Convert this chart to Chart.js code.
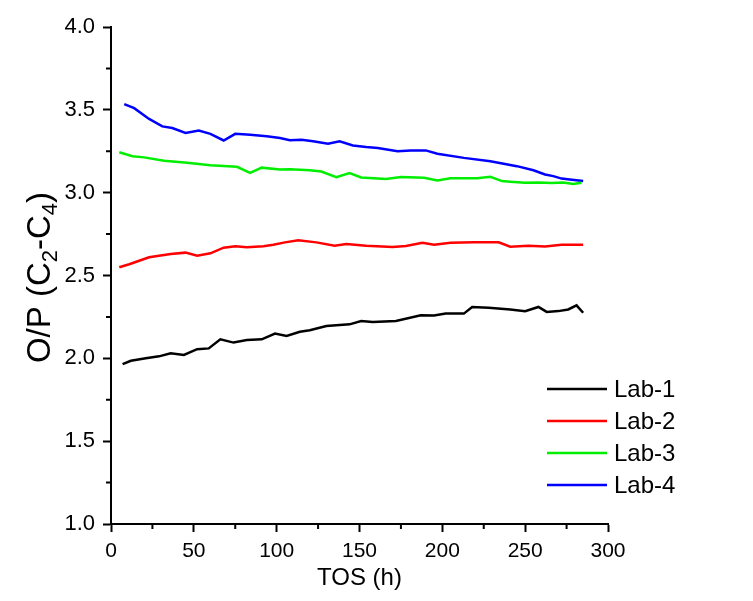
<!DOCTYPE html>
<html>
<head>
<meta charset="utf-8">
<script src="https://cdn.jsdelivr.net/npm/chart.js@4.4.1/dist/chart.umd.min.js"></script>
<style>
  html, body { margin: 0; padding: 0; background: #fff; }
  #wrap { width: 753px; height: 601px; }
</style>
</head>
<body>
<div id="wrap"><canvas id="chart1"></canvas></div>
<script>
// values
const seriesNames = ['Lab-1', 'Lab-2', 'Lab-3', 'Lab-4'];
const seriesColors = ['#000000', '#ff0000', '#00ee00', '#0000ff'];

const lab1X = [7, 12, 21, 29, 36, 44, 52, 59, 66, 74, 82, 91, 99, 106, 114, 120, 130, 144, 151, 158, 172, 187, 195, 202, 213, 218, 228, 241, 250, 258, 263, 270, 276, 281, 285];
const lab1Y = [1.965, 1.985, 2.0, 2.012, 2.03, 2.02, 2.055, 2.06, 2.115, 2.095, 2.11, 2.115, 2.15, 2.135, 2.16, 2.17, 2.195, 2.205, 2.225, 2.22, 2.225, 2.26, 2.258, 2.27, 2.27, 2.31, 2.305, 2.295, 2.285, 2.31, 2.28, 2.285, 2.295, 2.32, 2.275];

const lab2X = [5, 11, 23, 36, 45, 52, 60, 68, 75, 82, 92, 98, 105, 113, 124, 135, 142, 154, 170, 178, 188, 195, 205, 219, 234, 241, 252, 262, 272, 285];
const lab2Y = [2.55, 2.568, 2.61, 2.63, 2.638, 2.62, 2.634, 2.668, 2.677, 2.67, 2.677, 2.686, 2.70, 2.712, 2.70, 2.68, 2.69, 2.68, 2.672, 2.678, 2.697, 2.685, 2.697, 2.70, 2.70, 2.674, 2.68, 2.675, 2.685, 2.686];

const lab3X = [5, 13, 20, 32, 46, 60, 76, 84, 91, 102, 108, 120, 127, 136, 144, 151, 166, 175, 189, 197, 205, 221, 229, 236, 241, 250, 258, 266, 273, 279, 284];
const lab3Y = [3.244, 3.22, 3.213, 3.193, 3.18, 3.166, 3.156, 3.12, 3.151, 3.14, 3.141, 3.135, 3.128, 3.093, 3.118, 3.092, 3.083, 3.094, 3.09, 3.074, 3.087, 3.087, 3.096, 3.07, 3.066, 3.06, 3.062, 3.058, 3.062, 3.052, 3.06];

const lab4X = [8, 14, 23, 31, 37, 45, 53, 60, 68, 75, 84, 94, 102, 108, 115, 122, 131, 138, 146, 154, 161, 173, 181, 190, 197, 213, 229, 245, 255, 262, 267, 272, 277, 285];
const lab4Y = [3.535, 3.51, 3.445, 3.40, 3.39, 3.36, 3.375, 3.355, 3.315, 3.355, 3.35, 3.34, 3.33, 3.317, 3.32, 3.31, 3.295, 3.31, 3.285, 3.275, 3.27, 3.25, 3.255, 3.255, 3.235, 3.21, 3.19, 3.16, 3.135, 3.11, 3.10, 3.085, 3.08, 3.07];

const xTicks = [0, 50, 100, 150, 200, 250, 300];
const yTicks = ['1.0', '1.5', '2.0', '2.5', '3.0', '3.5', '4.0'];

const allX = [lab1X, lab2X, lab3X, lab4X];
const allY = [lab1Y, lab2Y, lab3Y, lab4Y];

const FONT = "'Liberation Sans', Arial, sans-serif";

const datasets = seriesNames.map((name, i) => ({
  label: name,
  data: allX[i].map((x, j) => ({ x: x, y: allY[i][j] })),
  borderColor: seriesColors[i],
  backgroundColor: seriesColors[i],
  borderWidth: 2.5,
  pointRadius: 0,
  tension: 0,
  fill: false
}));

// y title with real subscripts: [text, isSubscript]
const yTitleParts = [['O/P (C', false], ['2', true], ['-C', false], ['4', true], [')', false]];

// minor ticks, y title and the legend inside the plot
const extras = {
  id: 'extras',
  afterDraw(chart) {
    const ctx = chart.ctx;
    const xs = chart.scales.x, ys = chart.scales.y;
    const area = chart.chartArea;
    ctx.save();
    ctx.strokeStyle = '#000';
    ctx.lineWidth = 2;
    ctx.beginPath();
    for (let v = 25; v < 300; v += 50) {
      const px = xs.getPixelForValue(v);
      ctx.moveTo(px, area.bottom);
      ctx.lineTo(px, area.bottom + 5);
    }
    for (let v = 1.25; v < 4; v += 0.5) {
      const py = ys.getPixelForValue(v);
      ctx.moveTo(area.left - 5, py);
      ctx.lineTo(area.left, py);
    }
    ctx.stroke();

    // y axis title
    const big = '33px ' + FONT, small = '22px ' + FONT;
    let total = 0;
    yTitleParts.forEach(p => { ctx.font = p[1] ? small : big; total += ctx.measureText(p[0]).width; });
    ctx.translate(36, (area.top + area.bottom) / 2 + 2);
    ctx.rotate(-Math.PI / 2);
    ctx.fillStyle = '#000';
    ctx.textBaseline = 'alphabetic';
    ctx.textAlign = 'left';
    let cx = -total / 2;
    yTitleParts.forEach(p => {
      ctx.font = p[1] ? small : big;
      ctx.fillText(p[0], cx, p[1] ? 21 : 14);
      cx += ctx.measureText(p[0]).width;
    });
    ctx.setTransform(1, 0, 0, 1, 0, 0);

    ctx.font = '24px ' + FONT;
    ctx.textBaseline = 'middle';
    chart.data.datasets.forEach((ds, i) => {
      const y = 389 + i * 32;
      ctx.strokeStyle = ds.borderColor;
      ctx.lineWidth = 2.5;
      ctx.beginPath();
      ctx.moveTo(547, y);
      ctx.lineTo(607, y);
      ctx.stroke();
      ctx.fillStyle = '#000';
      ctx.fillText(ds.label, 614, y + 1);
    });
    ctx.restore();
  }
};

const config1 = {
  type: 'line',
  data: { datasets: datasets },
  options: {
    responsive: true,
    maintainAspectRatio: false,
    animation: false,
    layout: { padding: { left: 21, top: 27, right: 145, bottom: 0 } },
    plugins: { legend: { display: false }, tooltip: { enabled: false } },
    scales: {
      x: {
        type: 'linear',
        min: 0,
        max: 300,
        afterBuildTicks: axis => { axis.ticks = xTicks.map(v => ({ value: v })); },
        afterFit: axis => { axis.height = 77; },
        border: { color: '#000', width: 2 },
        grid: { drawOnChartArea: false, color: '#000', tickLength: 8, tickWidth: 2 },
        ticks: { color: '#000', padding: 7, maxRotation: 0, font: { family: FONT, size: 21 } },
        title: { display: true, text: 'TOS (h)', color: '#000', padding: { top: 4, bottom: 8 }, font: { family: FONT, size: 24 } }
      },
      y: {
        min: 1,
        max: 4,
        afterBuildTicks: axis => { axis.ticks = yTicks.map(v => ({ value: parseFloat(v) })); },
        afterTickToLabelConversion: axis => {
          axis.ticks.forEach((t, i) => { t.label = yTicks[i]; });
        },
        afterFit: axis => { axis.width = 90; },
        border: { color: '#000', width: 2 },
        grid: { drawOnChartArea: false, color: '#000', tickLength: 8, tickWidth: 2 },
        ticks: { color: '#000', padding: 8, font: { family: FONT, size: 22 } },
        title: { display: false }
      }
    }
  },
  plugins: [extras]
};

const chart1 = new Chart(document.getElementById('chart1'), config1);
</script>
</body>
</html>
